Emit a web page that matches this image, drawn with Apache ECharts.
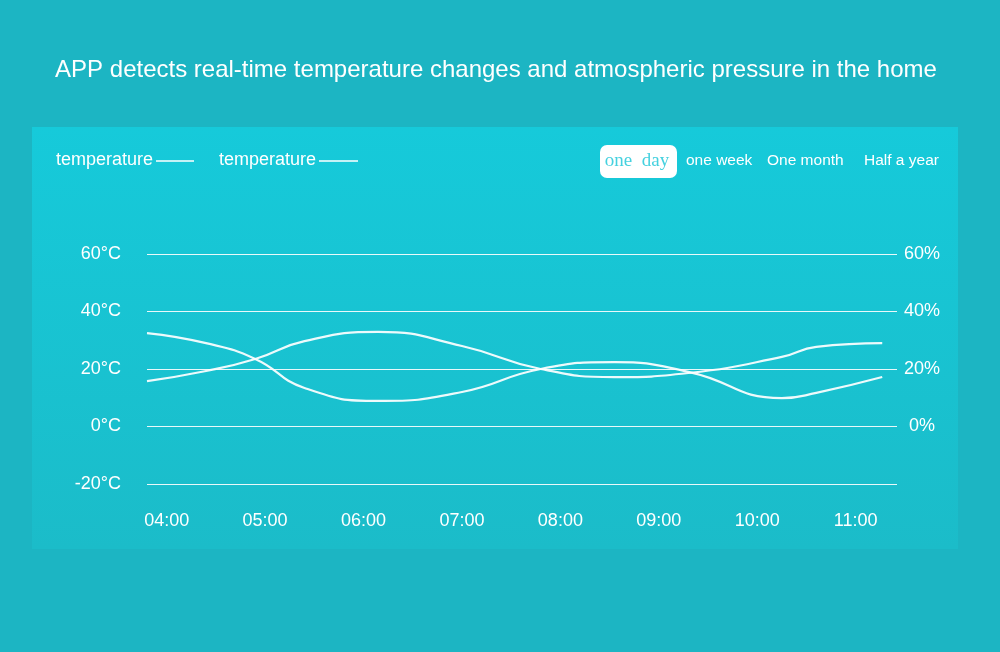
<!DOCTYPE html>
<html>
<head>
<meta charset="utf-8">
<script src="https://cdn.jsdelivr.net/npm/echarts@6/dist/echarts.min.js"></script>
<style>
html,body{margin:0;padding:0;background:#1cb5c3;}
#chart{width:1000px;height:652px;}
</style>
</head>
<body>
<div id="chart"></div>
<script>
// ---- data ----
var titleText = 'APP detects real-time temperature changes and atmospheric pressure in the home';
var legendNames = ['temperature', 'temperature'];
var rangeButtons = ['one  day', 'one week', 'One month', 'Half a year'];
var hourTicks = [4, 5, 6, 7, 8, 9, 10, 11];
var hours = [3.8, 4.4, 4.9, 5.4, 6.15, 7.0, 7.8, 8.55, 9.3, 10.25, 10.6, 11.27];
var tempA = [32.5, 29.0, 23.5, 13.4, 8.9, 12.0, 20.0, 22.4, 19.0, 9.9, 11.7, 17.2];
var tempB = [15.8, 19.3, 23.5, 29.7, 32.9, 28.0, 20.0, 17.2, 18.6, 24.2, 27.7, 29.0];

function pairs(xs, ys){ return xs.map(function(x,i){ return [x, ys[i]]; }); }
function hh(v){ var n = Math.round(v); return (n < 10 ? '0' : '') + n + ':00'; }

var chart = echarts.init(document.getElementById('chart'), null, {renderer:'canvas'});
var font = 'Liberation Sans, Arial, Helvetica, sans-serif';

var option = {
  backgroundColor: '#1cb5c3',
  animation: false,
  graphic: [
    {type:'rect', z:-10, shape:{x:32, y:127, width:926, height:422},
     style:{fill:new echarts.graphic.LinearGradient(0,0,0,1,[{offset:0,color:'#16cada'},{offset:1,color:'#1bbcc9'}])}},
    {type:'text', x:496, y:70, style:{text:titleText, fill:'#ffffff', font:'24px ' + font, align:'center', verticalAlign:'middle'}},
    {type:'text', x:56, y:160, style:{text:legendNames[0], fill:'#ffffff', font:'18px ' + font, verticalAlign:'middle'}},
    {type:'line', shape:{x1:156, y1:161, x2:194, y2:161}, style:{stroke:'#ffffff', lineWidth:1.3}},
    {type:'text', x:219, y:160, style:{text:legendNames[1], fill:'#ffffff', font:'18px ' + font, verticalAlign:'middle'}},
    {type:'line', shape:{x1:319, y1:161, x2:358, y2:161}, style:{stroke:'#ffffff', lineWidth:1.3}},
    {type:'rect', shape:{x:600, y:145, width:77, height:33, r:7}, style:{fill:'#ffffff'}},
    {type:'text', x:637, y:161, style:{text:rangeButtons[0], fill:'#45d1df', font:'19px "Liberation Serif", "DejaVu Serif", serif', align:'center', verticalAlign:'middle'}},
    {type:'text', x:686, y:161, style:{text:rangeButtons[1], fill:'#ffffff', font:'15.5px ' + font, verticalAlign:'middle'}},
    {type:'text', x:767, y:161, style:{text:rangeButtons[2], fill:'#ffffff', font:'15.5px ' + font, verticalAlign:'middle'}},
    {type:'text', x:864, y:161, style:{text:rangeButtons[3], fill:'#ffffff', font:'15.5px ' + font, verticalAlign:'middle'}}
  ],
  grid: {left:147, right:103, top:254, bottom:168, containLabel:false},
  xAxis: {
    type:'value', min:3.8, max:11.42,
    axisLine:{show:false}, axisTick:{show:false}, splitLine:{show:false},
    axisLabel:{customValues:hourTicks, formatter:hh, color:'#ffffff', fontSize:18, fontFamily:font, margin:28}
  },
  yAxis: [
    {type:'value', min:-20, max:60, interval:20, position:'left',
     axisLine:{show:false}, axisTick:{show:false},
     splitLine:{lineStyle:{color:'rgba(255,255,255,0.9)', width:1}},
     axisLabel:{formatter:function(v){return v + '\u00b0C';}, color:'#ffffff', fontSize:18, fontFamily:font, margin:26}},
    {type:'value', min:-20, max:60, interval:20, position:'right',
     axisLine:{show:false}, axisTick:{show:false}, splitLine:{show:false},
     axisLabel:{formatter:function(v){return v < 0 ? '' : v + '%';}, color:'#ffffff', fontSize:18, fontFamily:font, margin:25, align:'center'}}
  ],
  series: [
    {type:'line', name:legendNames[0], data:pairs(hours, tempA), smooth:0.5, symbol:'none',
     lineStyle:{color:'rgba(255,255,255,0.92)', width:2.2}},
    {type:'line', name:legendNames[1], data:pairs(hours, tempB), smooth:0.5, symbol:'none',
     lineStyle:{color:'rgba(255,255,255,0.92)', width:2.2}}
  ]
};
chart.setOption(option);
</script>
</body>
</html>
